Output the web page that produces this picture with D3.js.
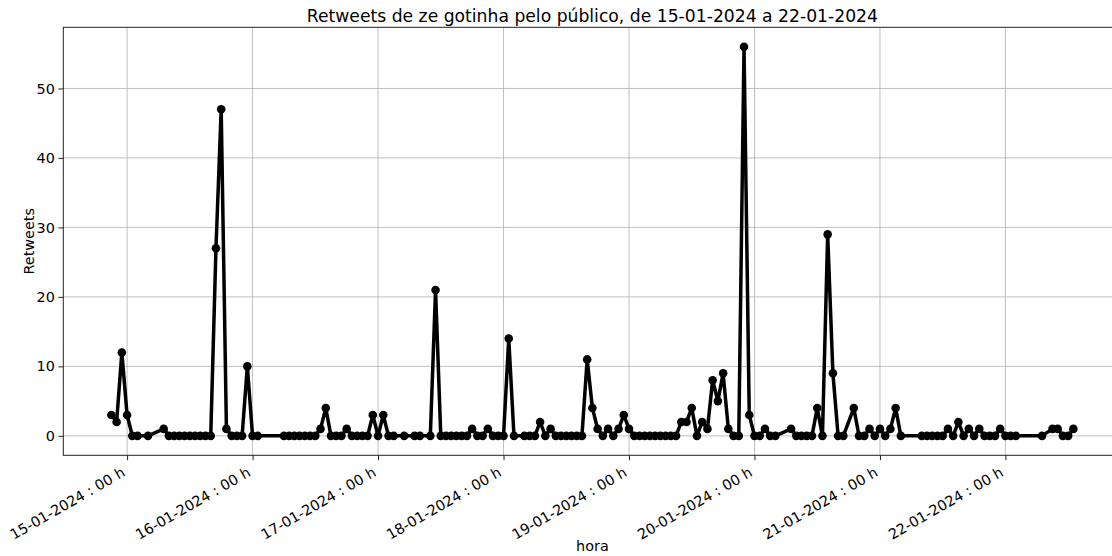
<!DOCTYPE html>
<html><head><meta charset="utf-8">
<script src="https://cdn.jsdelivr.net/npm/d3@7"></script>
<style>
body{margin:0;background:#fff}
svg{display:block;overflow:hidden}
text{font-family:"DejaVu Sans",sans-serif;fill:#000}
</style>
</head><body>
<svg id="chart" width="1112" height="556"></svg>
<script>
// ---- data (hour, retweets) ----
const times = [
"2024-01-14T21:00","2024-01-14T22:00","2024-01-14T23:00",
"2024-01-15T00:00","2024-01-15T01:00","2024-01-15T02:00","2024-01-15T04:00","2024-01-15T07:00",
"2024-01-15T08:00","2024-01-15T09:00","2024-01-15T10:00","2024-01-15T11:00","2024-01-15T12:00",
"2024-01-15T13:00","2024-01-15T14:00","2024-01-15T15:00","2024-01-15T16:00","2024-01-15T17:00",
"2024-01-15T18:00","2024-01-15T19:00","2024-01-15T20:00","2024-01-15T21:00","2024-01-15T22:00",
"2024-01-15T23:00",
"2024-01-16T00:00","2024-01-16T01:00","2024-01-16T06:00","2024-01-16T07:00","2024-01-16T08:00",
"2024-01-16T09:00","2024-01-16T10:00","2024-01-16T11:00","2024-01-16T12:00","2024-01-16T13:00",
"2024-01-16T14:00","2024-01-16T15:00","2024-01-16T16:00","2024-01-16T17:00","2024-01-16T18:00",
"2024-01-16T19:00","2024-01-16T20:00","2024-01-16T21:00","2024-01-16T22:00","2024-01-16T23:00",
"2024-01-17T00:00","2024-01-17T01:00","2024-01-17T02:00","2024-01-17T03:00","2024-01-17T05:00",
"2024-01-17T07:00","2024-01-17T08:00","2024-01-17T10:00","2024-01-17T11:00","2024-01-17T12:00",
"2024-01-17T13:00","2024-01-17T14:00","2024-01-17T15:00","2024-01-17T16:00","2024-01-17T17:00",
"2024-01-17T18:00","2024-01-17T19:00","2024-01-17T20:00","2024-01-17T21:00","2024-01-17T22:00",
"2024-01-17T23:00",
"2024-01-18T00:00","2024-01-18T01:00","2024-01-18T02:00","2024-01-18T04:00","2024-01-18T05:00",
"2024-01-18T06:00","2024-01-18T07:00","2024-01-18T08:00","2024-01-18T09:00","2024-01-18T10:00",
"2024-01-18T11:00","2024-01-18T12:00","2024-01-18T13:00","2024-01-18T14:00","2024-01-18T15:00",
"2024-01-18T16:00","2024-01-18T17:00","2024-01-18T18:00","2024-01-18T19:00","2024-01-18T20:00",
"2024-01-18T21:00","2024-01-18T22:00","2024-01-18T23:00",
"2024-01-19T00:00","2024-01-19T01:00","2024-01-19T02:00","2024-01-19T03:00","2024-01-19T04:00",
"2024-01-19T05:00","2024-01-19T06:00","2024-01-19T07:00","2024-01-19T08:00","2024-01-19T09:00",
"2024-01-19T10:00","2024-01-19T11:00","2024-01-19T12:00","2024-01-19T13:00","2024-01-19T14:00",
"2024-01-19T15:00","2024-01-19T16:00","2024-01-19T17:00","2024-01-19T18:00","2024-01-19T19:00",
"2024-01-19T20:00","2024-01-19T21:00","2024-01-19T22:00","2024-01-19T23:00",
"2024-01-20T00:00","2024-01-20T01:00","2024-01-20T02:00","2024-01-20T03:00","2024-01-20T04:00",
"2024-01-20T07:00","2024-01-20T08:00","2024-01-20T09:00","2024-01-20T10:00","2024-01-20T11:00",
"2024-01-20T12:00","2024-01-20T13:00","2024-01-20T14:00","2024-01-20T15:00","2024-01-20T16:00",
"2024-01-20T17:00","2024-01-20T19:00","2024-01-20T20:00","2024-01-20T21:00","2024-01-20T22:00",
"2024-01-20T23:00",
"2024-01-21T00:00","2024-01-21T01:00","2024-01-21T02:00","2024-01-21T03:00","2024-01-21T04:00",
"2024-01-21T08:00","2024-01-21T09:00","2024-01-21T10:00","2024-01-21T11:00","2024-01-21T12:00",
"2024-01-21T13:00","2024-01-21T14:00","2024-01-21T15:00","2024-01-21T16:00","2024-01-21T17:00",
"2024-01-21T18:00","2024-01-21T19:00","2024-01-21T20:00","2024-01-21T21:00","2024-01-21T22:00",
"2024-01-21T23:00",
"2024-01-22T00:00","2024-01-22T01:00","2024-01-22T02:00","2024-01-22T07:00","2024-01-22T09:00",
"2024-01-22T10:00","2024-01-22T11:00","2024-01-22T12:00","2024-01-22T13:00"
];
const retweets = [
3,2,12,
3,0,0,0,1,
0,0,0,0,0,
0,0,0,0,27,
47,1,0,0,0,
10,
0,0,0,0,0,
0,0,0,0,1,
4,0,0,0,1,
0,0,0,0,3,
0,3,0,0,0,
0,0,0,21,0,
0,0,0,0,0,
1,0,0,1,0,
0,
0,14,0,0,0,
0,2,0,1,0,
0,0,0,0,0,
11,4,1,0,1,
0,1,3,
1,0,0,0,0,
0,0,0,0,0,
2,2,4,0,2,
1,8,5,9,1,
0,0,56,3,
0,0,1,0,0,
1,0,0,0,0,
4,0,29,9,0,
0,4,0,0,1,
0,
1,0,1,4,0,
0,0,0,0,0,
1,0,2,0,1,
0,1,0,0,0,
1,
0,0,0,0,1,
1,0,0,1
];
const yTicks = [0,10,20,30,40,50];
const titleText = "Retweets de ze gotinha pelo público, de 15-01-2024 a 22-01-2024";
const xLabel = "hora";
const yLabel = "Retweets";

// ---- layout ----
const plot = {left:63.3, right:1121.5, top:27.3, bottom:455.3};
const parse = d3.utcParse("%Y-%m-%dT%H:%M");
const data = times.map((t,i)=>({t:parse(t), v:retweets[i]}));

const tExt = d3.extent(data, d=>d.t);
const tPad = (tExt[1]-tExt[0])*0.05;
const x = d3.scaleUtc().domain([new Date(+tExt[0]-tPad), new Date(+tExt[1]+tPad)]).range([plot.left, plot.right]);
const vMax = d3.max(data, d=>d.v), vMin = d3.min(data, d=>d.v);
const vPad = (vMax-vMin)*0.05;
const y = d3.scaleLinear().domain([vMin-vPad, vMax+vPad]).range([plot.bottom, plot.top]);

const svg = d3.select("#chart");
const xTicks = x.ticks(d3.utcDay.every(1));
const fmt = d3.utcFormat("%d-%m-%Y : %H h");
const fs = "14.4px";

// grid
const grid = svg.append("g");
grid.selectAll("line.gx").data(xTicks).join("line")
  .attr("x1", d=>x(d)).attr("x2", d=>x(d)).attr("y1", plot.top).attr("y2", plot.bottom)
  .attr("stroke", "#b0b0b0").attr("stroke-width", 0.8);
grid.selectAll("line.gy").data(yTicks).join("line")
  .attr("x1", plot.left).attr("x2", plot.right).attr("y1", d=>y(d)).attr("y2", d=>y(d))
  .attr("stroke", "#b0b0b0").attr("stroke-width", 0.8);

// axes
const xAxis = svg.append("g").attr("transform", `translate(0,${plot.bottom})`)
  .call(d3.axisBottom(x).tickValues(xTicks).tickFormat(fmt).tickSize(4.9).tickSizeOuter(0));
xAxis.select(".domain").remove();
xAxis.selectAll(".tick line").attr("stroke", "#222").attr("stroke-width", 1);
xAxis.selectAll(".tick text")
  .attr("x", 0).attr("y", 0).attr("dy", null)
  .attr("text-anchor", "end")
  .attr("transform", "translate(-1.5,20) rotate(-30)")
  .style("font-size", fs).style("font-family", "DejaVu Sans").attr("fill", "#111");

const yAxis = svg.append("g").attr("transform", `translate(${plot.left},0)`)
  .call(d3.axisLeft(y).tickValues(yTicks).tickSize(4.9).tickPadding(3.5).tickSizeOuter(0));
yAxis.select(".domain").remove();
yAxis.selectAll(".tick line").attr("stroke", "#222").attr("stroke-width", 1);
yAxis.selectAll(".tick text").style("font-size", fs).style("font-family", "DejaVu Sans").attr("fill", "#111");

// spines
const sp = svg.append("g").attr("stroke", "#222").attr("stroke-width", 1).attr("fill", "none");
sp.append("rect").attr("x", plot.left).attr("y", plot.top)
  .attr("width", plot.right-plot.left).attr("height", plot.bottom-plot.top);

// line + markers
const line = d3.line().x(d=>x(d.t)).y(d=>y(d.v));
svg.append("path").datum(data).attr("d", line)
  .attr("fill", "none").attr("stroke", "#000").attr("stroke-width", 3.5).attr("stroke-linejoin", "round");
svg.append("g").selectAll("circle").data(data).join("circle")
  .attr("cx", d=>x(d.t)).attr("cy", d=>y(d.v)).attr("r", 4.3).attr("fill", "#000");

// labels
const cx = (plot.left+plot.right)/2;
svg.append("text").attr("x", cx).attr("y", 21.5).attr("text-anchor", "middle")
  .style("font-size", "17.2px").attr("fill", "#111").text(titleText);
svg.append("text").attr("x", cx).attr("y", 551).attr("text-anchor", "middle")
  .style("font-size", fs).attr("fill", "#111").text(xLabel);
svg.append("text").attr("transform", `translate(33.5,${(plot.top+plot.bottom)/2}) rotate(-90)`)
  .attr("text-anchor", "middle").style("font-size", fs).attr("fill", "#111").text(yLabel);
</script>
</body></html>
